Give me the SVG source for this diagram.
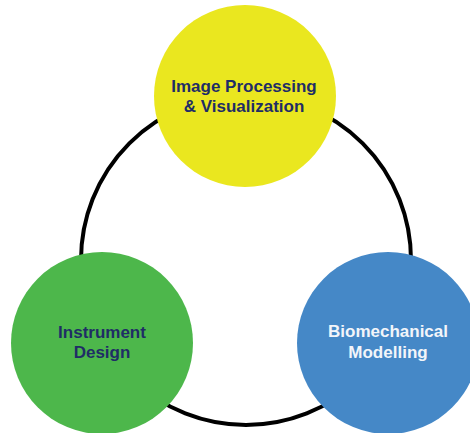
<svg xmlns="http://www.w3.org/2000/svg" width="470" height="433" viewBox="0 0 470 433">
<style>
.lbl{font-family:"Liberation Sans",Arial,sans-serif;font-weight:bold;font-size:17px;text-anchor:middle;fill:#1F2D66}
.w{fill:#F2F5FA}
.ring{fill:none;stroke:#000;stroke-width:4}
</style>
<rect width="470" height="433" fill="#fff"/>
<g id="connectors">
<circle class="ring" cx="246" cy="260" r="165"/>
</g>
<g id="image-processing">
<circle cx="245" cy="96" r="91" fill="#EAE71F"/>
<text class="lbl" x="244" y="92">Image Processing</text>
<text class="lbl" x="244" y="112">&amp; Visualization</text>
</g>
<g id="instrument-design">
<circle cx="102" cy="343" r="91" fill="#4DB74B"/>
<text class="lbl" x="102" y="338">Instrument</text>
<text class="lbl" x="102" y="358">Design</text>
</g>
<g id="biomechanical-modelling">
<circle cx="388" cy="343" r="91" fill="#4588C7"/>
<text class="lbl w" x="388" y="337">Biomechanical</text>
<text class="lbl w" x="388" y="358">Modelling</text>
</g>
</svg>
